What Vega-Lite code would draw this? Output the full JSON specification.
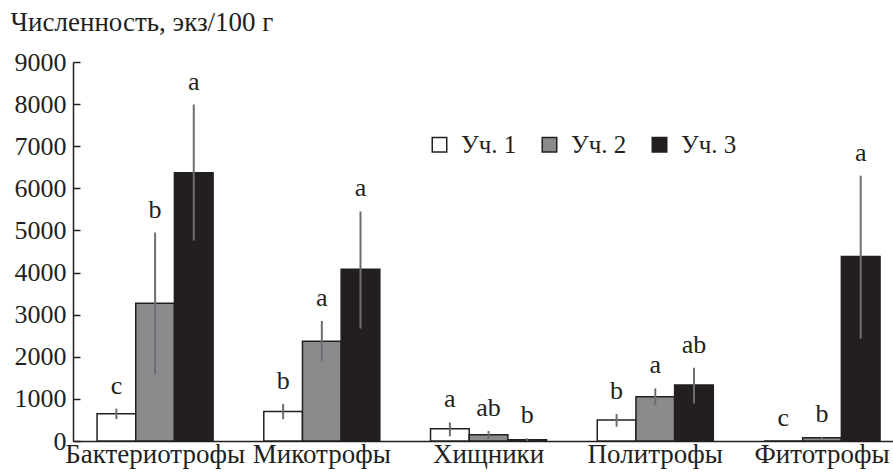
{
  "$schema": "https://vega.github.io/schema/vega-lite/v6.json",
  "autosize": {"type": "none"},
  "padding": {"left": 73, "top": 62, "right": 0, "bottom": 34},
  "width": 820,
  "height": 379,
  "background": "white",
  "config": {
    "view": {"stroke": null},
    "font": "Liberation Serif",
    "text": {"font": "Liberation Serif"}
  },
  "data": {
    "values": [
      {"group": "Бактериотрофы", "site": "Уч. 1", "mean": 650, "lo": 520, "hi": 770, "letter": "c"},
      {"group": "Бактериотрофы", "site": "Уч. 2", "mean": 3270, "lo": 1580, "hi": 4950, "letter": "b"},
      {"group": "Бактериотрофы", "site": "Уч. 3", "mean": 6370, "lo": 4760, "hi": 7990, "letter": "a"},
      {"group": "Микотрофы", "site": "Уч. 1", "mean": 700, "lo": 520, "hi": 880, "letter": "b"},
      {"group": "Микотрофы", "site": "Уч. 2", "mean": 2370, "lo": 1890, "hi": 2850, "letter": "a"},
      {"group": "Микотрофы", "site": "Уч. 3", "mean": 4080, "lo": 2670, "hi": 5450, "letter": "a"},
      {"group": "Хищники", "site": "Уч. 1", "mean": 290, "lo": 110, "hi": 440, "letter": "a"},
      {"group": "Хищники", "site": "Уч. 2", "mean": 150, "lo": 50, "hi": 240, "letter": "ab"},
      {"group": "Хищники", "site": "Уч. 3", "mean": 30, "lo": 0, "hi": 65, "letter": "b"},
      {"group": "Политрофы", "site": "Уч. 1", "mean": 500, "lo": 340, "hi": 640, "letter": "b"},
      {"group": "Политрофы", "site": "Уч. 2", "mean": 1050, "lo": 850, "hi": 1250, "letter": "a"},
      {"group": "Политрофы", "site": "Уч. 3", "mean": 1330, "lo": 890, "hi": 1740, "letter": "ab"},
      {"group": "Фитотрофы", "site": "Уч. 1", "mean": 0, "lo": 0, "hi": 0, "letter": "c"},
      {"group": "Фитотрофы", "site": "Уч. 2", "mean": 80, "lo": 60, "hi": 100, "letter": "b"},
      {"group": "Фитотрофы", "site": "Уч. 3", "mean": 4380, "lo": 2430, "hi": 6300, "letter": "a"}
    ]
  },
  "encoding": {
    "x": {
      "field": "group",
      "type": "nominal",
      "sort": null,
      "scale": {"paddingInner": 0.304, "paddingOuter": 0.111, "align": 0.65},
      "axis": {
        "title": null,
        "labelAngle": 0,
        "ticks": false,
        "labelFont": "Liberation Serif",
        "labelFontSize": 27,
        "labelColor": "#231f20",
        "labelPadding": 0,
        "labelOverlap": false,
        "labelBound": false,
        "domainColor": "#231f20",
        "domainWidth": 1.5
      }
    },
    "xOffset": {
      "field": "site",
      "type": "nominal",
      "sort": ["Уч. 1", "Уч. 2", "Уч. 3"],
      "scale": {"paddingInner": 0, "paddingOuter": 0}
    }
  },
  "layer": [
    {
      "mark": {"type": "bar", "stroke": "#231f20", "strokeWidth": 1.5},
      "encoding": {
        "y": {
          "field": "mean",
          "type": "quantitative",
          "scale": {"domain": [0, 9000], "nice": false},
          "axis": {
            "values": [0, 1000, 2000, 3000, 4000, 5000, 6000, 7000, 8000, 9000],
            "format": "d",
            "grid": false,
            "tickSize": -7,
            "tickColor": "#231f20",
            "tickWidth": 1.5,
            "domainColor": "#231f20",
            "domainWidth": 1.5,
            "labelFont": "Liberation Serif",
            "labelFontSize": 26,
            "labelColor": "#231f20",
            "labelPadding": 14,
            "labelBound": false,
            "labelOverlap": false,
            "title": "Численность, экз/100 г",
            "titleAngle": 0,
            "titleAlign": "left",
            "titleBaseline": "alphabetic",
            "titleX": -63,
            "titleY": -32,
            "titleFont": "Liberation Serif",
            "titleFontSize": 27,
            "titleFontWeight": "normal",
            "titleColor": "#231f20"
          }
        },
        "fill": {
          "field": "site",
          "type": "nominal",
          "scale": {"domain": ["Уч. 1", "Уч. 2", "Уч. 3"], "range": ["#ffffff", "#8a8b8d", "#231f20"]},
          "legend": {
            "title": null,
            "orient": "none",
            "direction": "horizontal",
            "legendX": 354,
            "legendY": 70,
            "padding": 0,
            "symbolType": "square",
            "symbolSize": 210,
            "symbolStrokeColor": "#231f20",
            "symbolStrokeWidth": 1.5,
            "labelFont": "Liberation Serif",
            "labelFontSize": 25,
            "labelColor": "#231f20",
            "labelOffset": 9,
            "columnPadding": 20
          }
        }
      }
    },
    {
      "mark": {"type": "rule", "color": "#6d6e71", "strokeWidth": 2},
      "encoding": {
        "y": {"field": "lo", "type": "quantitative"},
        "y2": {"field": "hi"}
      }
    },
    {
      "mark": {"type": "text", "font": "Liberation Serif", "fontSize": 26, "baseline": "alphabetic", "dy": -15, "color": "#231f20"},
      "encoding": {
        "y": {"field": "hi", "type": "quantitative"},
        "text": {"field": "letter"}
      }
    }
  ]
}
